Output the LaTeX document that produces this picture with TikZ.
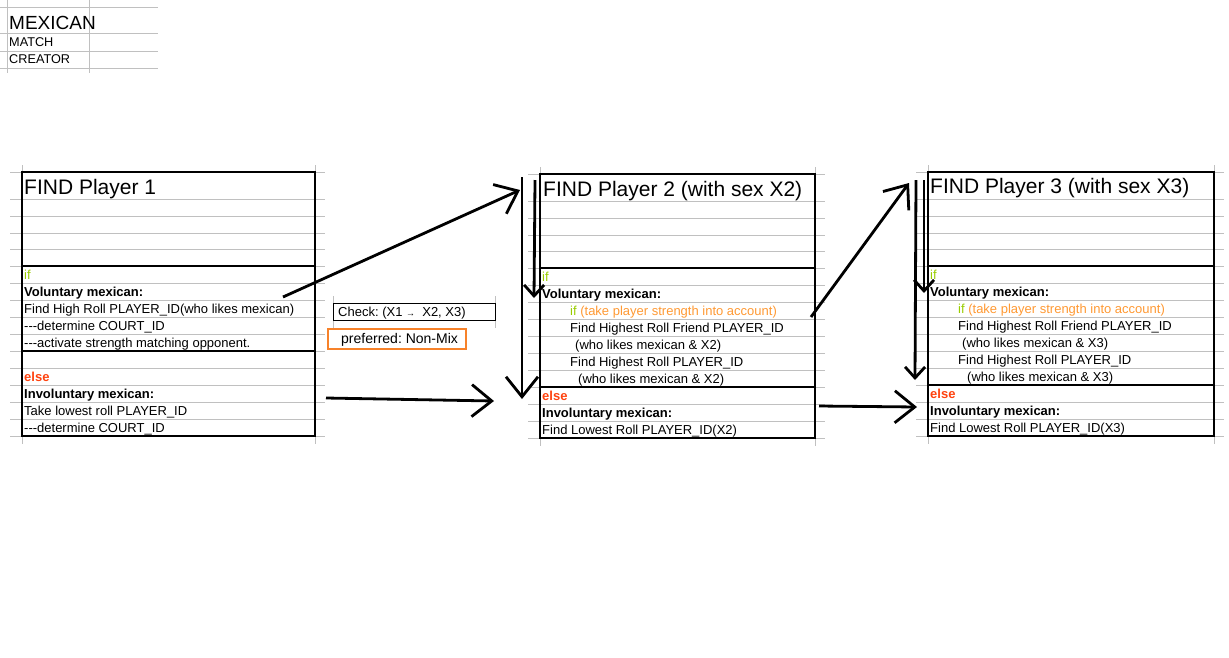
\documentclass[tikz,border=0pt]{standalone}
\usepackage{fontspec}
\setmainfont{Liberation Sans}
\usepackage{xcolor}
\usetikzlibrary{arrows.meta,calc}
\frenchspacing

\definecolor{ifgreen}{HTML}{99CC00}
\definecolor{elsered}{HTML}{FF420E}
\definecolor{condorange}{HTML}{FF9933}
\definecolor{boxorange}{HTML}{F7822A}
\definecolor{gridgray}{HTML}{C0C0C0}

\tikzset{
  gridline/.style={draw=gridgray, line width=0.8pt},
  frame/.style={draw=black, line width=1.2pt},
  cell/.style={anchor=base west, inner sep=0pt, font=\fontsize{13}{15}\selectfont},
  boldcell/.style={cell, font=\fontsize{13}{15}\selectfont\bfseries},
  titlecell/.style={anchor=base west, inner sep=0pt, font=\fontsize{21}{25}\selectfont},
  handarrow/.style={line width=2.8pt},
  bighead/.style={-{Straight Barb[length=20pt,width=32pt]}},
  smallhead/.style={-{Straight Barb[length=11pt,width=20pt]}},
}

\begin{document}
\begin{tikzpicture}[x=1pt,y=-1pt]
    \useasboundingbox (0,0) rectangle (1229,657);

    % Sheet header
    \foreach \y in {7,33,51,68} \draw[gridline] (0,\y) -- (158,\y);
    \foreach \x in {7,89} \draw[gridline] (\x,0) -- (\x,73);
    \node[anchor=base west, inner sep=0pt, font=\fontsize{19}{22}\selectfont] (sheetname) at (9,29) {MEXICAN};
    \node[anchor=base west, inner sep=0pt, font=\fontsize{12.7}{15}\selectfont] (sheetmatch) at (9,46) {MATCH};
    \node[anchor=base west, inner sep=0pt, font=\fontsize{12.7}{15}\selectfont] (sheetcreator) at (9,63) {CREATOR};

    % Cell grids and frames (left / right / if-line / else-line)
    \foreach \l/\r/\b/\s in {22/315/266/85, 540/815/268/119, 928/1214/266/119} {
        \foreach \y in {-94,-67,-50,-33,-17,0,17,34,51,68,85,102,119,136,153,170}
            \draw[gridline] ({\l-12},{\b+\y}) -- ({\r+10},{\b+\y});
        \foreach \x in {\l,\r}
            \draw[gridline] (\x,{\b-101}) -- (\x,{\b+178});
        \draw[frame] (\l,{\b-94}) rectangle (\r,{\b+170});
        \draw[frame] (\l,\b) -- (\r,\b);
        \draw[frame] (\l,{\b+\s}) -- (\r,{\b+\s});
    }

    % Player 1
    \node[titlecell] (p1title) at (24,194) {FIND Player 1};
    \node[cell, text=ifgreen] (p1if) at (24,279) {if};
    \node[boldcell] (p1vol) at (24,296) {Voluntary mexican:};
    \node[cell] (p1high) at (24,313) {Find High Roll PLAYER\_ID(who likes mexican)};
    \node[cell] (p1court) at (24,330) {-{}-{}-determine COURT\_ID};
    \node[cell] (p1strength) at (24,347) {-{}-{}-activate strength matching opponent.};
    \node[boldcell, text=elsered] (p1else) at (24,381) {else};
    \node[boldcell] (p1invol) at (24,398) {Involuntary mexican:};
    \node[cell] (p1low) at (24,415) {Take lowest roll PLAYER\_ID};
    \node[cell] (p1courtb) at (24,432) {-{}-{}-determine COURT\_ID};

    % Player 2
    \node[titlecell] (p2title) at (543,196) {FIND Player 2 (with sex X2)};
    \node[cell, text=ifgreen] (p2if) at (542,281) {if};
    \node[boldcell] (p2vol) at (542,298) {Voluntary mexican:};
    \node[cell] (p2cond) at (570,315) {\textcolor{ifgreen}{if} \textcolor{condorange}{(take player strength into account)}};
    \node[cell] (p2friend) at (570,332) {Find Highest Roll Friend PLAYER\_ID};
    \node[cell] (p2likesa) at (575,349) {(who likes mexican \& X2)};
    \node[cell] (p2high) at (570,366) {Find Highest Roll PLAYER\_ID};
    \node[cell] (p2likesb) at (578,383) {(who likes mexican \& X2)};
    \node[boldcell, text=elsered] (p2else) at (542,400) {else};
    \node[boldcell] (p2invol) at (542,417) {Involuntary mexican:};
    \node[cell] (p2low) at (542,434) {Find Lowest Roll PLAYER\_ID(X2)};

    % Player 3
    \node[titlecell] (p3title) at (930,193) {FIND Player 3 (with sex X3)};
    \node[cell, text=ifgreen] (p3if) at (930,279) {if};
    \node[boldcell] (p3vol) at (930,296) {Voluntary mexican:};
    \node[cell] (p3cond) at (958,313) {\textcolor{ifgreen}{if} \textcolor{condorange}{(take player strength into account)}};
    \node[cell] (p3friend) at (958,330) {Find Highest Roll Friend PLAYER\_ID};
    \node[cell] (p3likesa) at (962,347) {(who likes mexican \& X3)};
    \node[cell] (p3high) at (958,364) {Find Highest Roll PLAYER\_ID};
    \node[cell] (p3likesb) at (967,381) {(who likes mexican \& X3)};
    \node[boldcell, text=elsered] (p3else) at (930,398) {else};
    \node[boldcell] (p3invol) at (930,415) {Involuntary mexican:};
    \node[cell] (p3low) at (930,432) {Find Lowest Roll PLAYER\_ID(X3)};

    % Check note
    \foreach \x in {333,495} \draw[gridline] (\x,296) -- (\x,328);
    \draw[black, line width=0.9pt] (333,303) rectangle (495,320);
    \node[cell] (check) at (338,316) {Check: (X1 {\fontsize{9}{9}\selectfont →}\ \ X2, X3)};
    \draw[boxorange, line width=2.8pt] (328,329) rectangle (466,349);
    \node[anchor=base west, inner sep=0pt, font=\fontsize{14}{16}\selectfont] (preferred) at (341,343) {preferred: Non-Mix};

    % Hand drawn arrows
    \coordinate (p1volout) at (283,297);
    \coordinate (p2in) at (520,190);
    \coordinate (p1invout) at (326,398);
    \coordinate (p2invin) at (494,401);
    \coordinate (p2downtop) at (522,177);
    \coordinate (p2downend) at (522,399);
    \coordinate (p2shorttop) at (535,180);
    \coordinate (p2shortend) at (534,298);
    \coordinate (p2volout) at (811,317);
    \coordinate (p3in) at (909,183);
    \coordinate (p2invout) at (819,406);
    \coordinate (p3invin) at (917,407);
    \coordinate (p3downtop) at (916,180);
    \coordinate (p3downend) at (915,380);
    \coordinate (p3shorttop) at (924,180);
    \coordinate (p3shortend) at (924,293);

    \draw[handarrow, bighead] (p1volout) -- (p2in);
    \draw[handarrow, bighead] (p1invout) -- (p2invin);
    \draw[handarrow, bighead] (p2downtop) -- (p2downend);
    \draw[handarrow, smallhead] (p2shorttop) -- (p2shortend);
    \draw[handarrow, bighead] (p2volout) -- (p3in);
    \draw[handarrow, bighead] (p2invout) -- (p3invin);
    \draw[handarrow, smallhead] (p3downtop) -- (p3downend);
    \draw[handarrow, smallhead] (p3shorttop) -- (p3shortend);
\end{tikzpicture}
\end{document}
